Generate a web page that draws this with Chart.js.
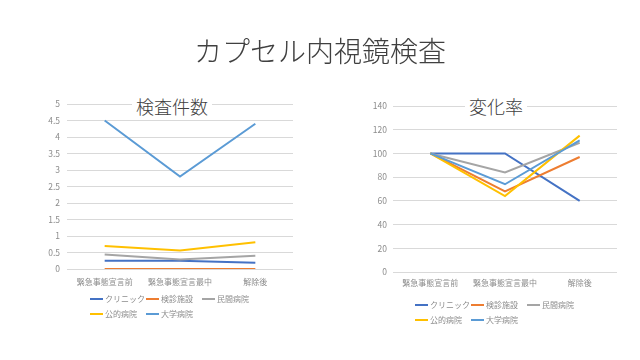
<!DOCTYPE html>
<html><head><meta charset="utf-8">
<script src="https://cdn.jsdelivr.net/npm/chart.js@4"></script>
<style>
html,body{margin:0;padding:0;background:#fff;}
body{width:640px;height:360px;position:relative;overflow:hidden;font-family:"Noto Sans CJK JP",sans-serif;}
.box{position:absolute;top:0;width:320px;height:360px;}
#title{position:absolute;left:0;width:640px;top:31px;text-align:center;font-size:28px;font-weight:300;color:#404040;line-height:38px;z-index:3;}
.ct{position:absolute;top:93px;font-size:18px;font-weight:300;color:#404040;background:#fff;line-height:26px;padding:0 4px;transform:translateX(-50%);z-index:3;white-space:nowrap;}
.legend{position:absolute;display:grid;grid-template-columns:56px 56px 56px;font-size:8px;color:#8c8c8c;z-index:3;}
.li{height:15px;line-height:15px;display:flex;align-items:center;white-space:nowrap;}
.sw{display:inline-block;width:13px;height:2px;margin-right:2px;}
</style>
</head><body>
<div id="title">カプセル内視鏡検査</div>
<div class="box" style="left:0"><canvas id="c1"></canvas></div>
<div class="box" style="left:320px"><canvas id="c2"></canvas></div>
<div class="ct" style="left:172px">検査件数</div>
<div class="ct" style="left:496px">変化率</div>
<div class="legend" id="lg1" style="left:90px;top:291px"></div>
<div class="legend" id="lg2" style="left:415px;top:297px"></div>
<script>
const categories = ['緊急事態宣言前', '緊急事態宣言最中', '解除後'];
const seriesNames = ['クリニック', '検診施設', '民間病院', '公的病院', '大学病院'];
const seriesColors = ['#4472C4', '#ED7D31', '#A5A5A5', '#FFC000', '#5B9BD5'];

// 検査件数
const countClinic = [0.25, 0.25, 0.19];
const countScreening = [0, 0, 0];
const countPrivate = [0.44, 0.29, 0.40];
const countPublic = [0.70, 0.56, 0.81];
const countUniversity = [4.5, 2.8, 4.4];

// 変化率
const rateClinic = [100, 100, 60];
const rateScreening = [100, 68, 97];
const ratePrivate = [100, 84, 109];
const ratePublic = [100, 64, 115];
const rateUniversity = [100, 74, 111];

const countTicks = [0, 0.5, 1, 1.5, 2, 2.5, 3, 3.5, 4, 4.5, 5];
const rateTicks = [0, 20, 40, 60, 80, 100, 120, 140];

const htmlLegend = {
  id: 'htmlLegend',
  afterUpdate(chart, args, opts) {
    const el = document.getElementById(opts.containerID);
    el.innerHTML = '';
    const items = chart.options.plugins.legend.labels.generateLabels(chart);
    items.sort((a, b) => a.datasetIndex - b.datasetIndex).forEach(it => {
      const d = document.createElement('div'); d.className = 'li';
      const s = document.createElement('span'); s.className = 'sw'; s.style.background = it.strokeStyle;
      const t = document.createElement('span'); t.textContent = it.text;
      d.append(s, t); el.append(d);
    });
  }
};

function makeChart(id, seriesData, ticks, pad, yPad, xPad, legendId) {
  const datasets = seriesData.map((d, i) => ({
    label: seriesNames[i],
    data: d,
    borderColor: seriesColors[i],
    backgroundColor: seriesColors[i],
    borderWidth: 2,
    pointRadius: 0,
    tension: 0,
    fill: false,
    order: seriesData.length - i
  }));
  return new Chart(document.getElementById(id), {
    type: 'line',
    data: { labels: categories, datasets },
    plugins: [htmlLegend],
    options: {
      responsive: true,
      maintainAspectRatio: false,
      animation: false,
      layout: { padding: pad },
      plugins: {
        legend: { display: false },
        title: { display: false },
        tooltip: { enabled: false },
        htmlLegend: { containerID: legendId }
      },
      scales: {
        x: {
          grid: { display: false, drawTicks: false },
          border: { display: false },
          offset: true,
          ticks: { color: '#8c8c8c', font: { family: 'Noto Sans CJK JP', size: 8 }, padding: xPad, maxRotation: 0, autoSkip: false },
          afterFit(s) { s.height = 24; }
        },
        y: {
          min: ticks[0],
          max: ticks[ticks.length - 1],
          afterBuildTicks(s) { s.ticks = ticks.map(v => ({ value: v })); },
          grid: { color: '#d9d9d9', lineWidth: 1, drawTicks: false },
          border: { display: false },
          ticks: { color: '#8c8c8c', font: { family: 'Noto Sans CJK JP', size: 8.5 }, padding: yPad, callback: v => String(v) },
          afterFit(s) { s.width = 37; }
        }
      }
    }
  });
}

makeChart('c1', [countClinic, countScreening, countPrivate, countPublic, countUniversity], countTicks,
  { left: 30, right: 27, top: 104, bottom: 67 }, 7, 8, 'lg1');
makeChart('c2', [rateClinic, rateScreening, ratePrivate, ratePublic, rateUniversity], rateTicks,
  { left: 36, right: 23, top: 106, bottom: 64 }, 6, 6, 'lg2');
</script>
</body></html>
